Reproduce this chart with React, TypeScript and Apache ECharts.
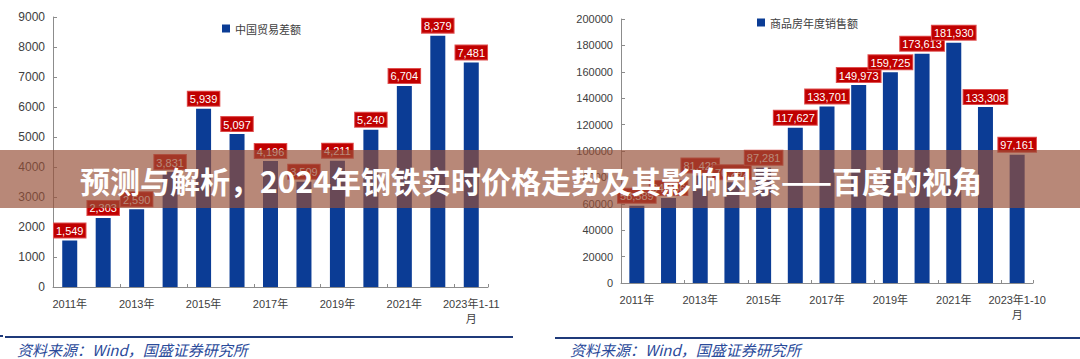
import React, { useEffect, useRef } from "react";
import * as echarts from "echarts";

const leftCategories = ["2011年", "2012年", "2013年", "2014年", "2015年", "2016年", "2017年", "2018年", "2019年", "2020年", "2021年", "2022年", "2023年1-11月"];
const tradeSurplus = [1549, 2303, 2590, 3831, 5939, 5097, 4196, 3509, 4211, 5240, 6704, 8379, 7481];
const leftSeriesName = "中国贸易差额";

const rightCategories = ["2011年", "2012年", "2013年", "2014年", "2015年", "2016年", "2017年", "2018年", "2019年", "2020年", "2021年", "2022年", "2023年1-10月"];
const housingSales = [58589, 64456, 81428, 76292, 87281, 117627, 133701, 149973, 159725, 173613, 181930, 133308, 97161];
const rightSeriesName = "商品房年度销售额";

const leftYAxis = { min: 0, max: 9000, interval: 1000 };
const rightYAxis = { min: 0, max: 200000, interval: 20000 };

const bannerTitle = "预测与解析，2024年钢铁实时价格走势及其影响因素——百度的视角";
const sourceText = "资料来源：Wind，国盛证券研究所";

const BAR = "#0b3c95";
const AXIS = "#8c8c8c";
const TXT = "#404040";
const SANS = "'Liberation Sans', 'Noto Sans CJK SC', sans-serif";
const CJK = "'Noto Sans CJK SC', sans-serif";

const catLabel = (v: string) => (v.endsWith("月") ? v.slice(0, -1) + "\n月" : v);

export default function App() {
  const ref = useRef<HTMLDivElement>(null);
  useEffect(() => {
    if (!ref.current) return;
    const chart = echarts.init(ref.current, null, { renderer: "svg" });
    const xAxisCommon = (gridIndex: number, data: string[]) => ({
      type: "category",
      gridIndex,
      data,
      axisLine: { lineStyle: { color: AXIS, width: 1 } },
      axisTick: { show: true, inside: true, length: 3, interval: 1, lineStyle: { color: AXIS } },
      axisLabel: {
        interval: 1,
        formatter: catLabel,
        color: TXT,
        fontSize: 11,
        fontFamily: SANS,
        margin: 9,
        lineHeight: 15,
      },
    });
    const yAxisCommon = (gridIndex: number, cfg: { min: number; max: number; interval: number }, fs: number) => ({
      type: "value",
      gridIndex,
      min: cfg.min,
      max: cfg.max,
      interval: cfg.interval,
      splitLine: { show: false },
      axisLine: { show: true, lineStyle: { color: AXIS } },
      axisTick: { show: true, inside: true, length: 4, lineStyle: { color: AXIS } },
      axisLabel: { color: TXT, fontSize: fs, fontFamily: SANS, margin: 8, formatter: (v: number) => String(v) },
    });
    const labelCfg = {
      show: true,
      position: "top",
      distance: 3,
      formatter: (p: any) => Number(p.value).toLocaleString("en-US"),
      color: "#ffffff",
      fontSize: 11,
      fontFamily: SANS,
      backgroundColor: "#c00000",
      borderColor: "#e05050",
      borderWidth: 1,
      padding: [2, 2, 1, 2],
    };
    chart.setOption({
      animation: false,
      backgroundColor: "#ffffff",
      grid: [
        { left: 53, top: 17, width: 435, height: 270 },
        { left: 621, top: 19, width: 412, height: 264 },
      ],
      legend: [
        {
          data: [leftSeriesName],
          left: 222,
          top: 23,
          padding: 0,
          itemWidth: 8,
          itemHeight: 8,
          itemGap: 4,
          icon: "rect",
          textStyle: { color: TXT, fontSize: 11, fontFamily: CJK },
        },
        {
          data: [rightSeriesName],
          left: 757,
          top: 17,
          padding: 0,
          itemWidth: 8,
          itemHeight: 8,
          itemGap: 4,
          icon: "rect",
          textStyle: { color: TXT, fontSize: 11, fontFamily: CJK },
        },
      ],
      xAxis: [xAxisCommon(0, leftCategories), xAxisCommon(1, rightCategories)],
      yAxis: [yAxisCommon(0, leftYAxis, 12), yAxisCommon(1, rightYAxis, 11)],
      series: [
        {
          name: leftSeriesName,
          type: "bar",
          xAxisIndex: 0,
          yAxisIndex: 0,
          data: tradeSurplus,
          barWidth: 15,
          itemStyle: { color: BAR },
          label: labelCfg,
        },
        {
          name: rightSeriesName,
          type: "bar",
          xAxisIndex: 1,
          yAxisIndex: 1,
          data: housingSales,
          barWidth: 15,
          itemStyle: { color: BAR },
          label: labelCfg,
        },
      ],
      graphic: [
        { type: "line", z: 50, shape: { x1: 5, y1: 337, x2: 513, y2: 337 }, style: { stroke: "#1f3a7a", lineWidth: 2 } },
        { type: "line", z: 50, shape: { x1: 0, y1: 336, x2: 3, y2: 336 }, style: { stroke: "#1f3a7a", lineWidth: 2 } },
        { type: "line", z: 50, shape: { x1: 555, y1: 338, x2: 1080, y2: 338 }, style: { stroke: "#1f3a7a", lineWidth: 2 } },
        {
          type: "text", z: 50, x: 17, y: 349,
          style: { text: sourceText, fill: "#2a4a9a", fontSize: 15, fontStyle: "italic", fontFamily: CJK, verticalAlign: "middle", align: "left" },
        },
        {
          type: "text", z: 50, x: 570, y: 349,
          style: { text: sourceText, fill: "#2a4a9a", fontSize: 15, fontStyle: "italic", fontFamily: CJK, verticalAlign: "middle", align: "left" },
        },
        { type: "rect", z: 100, shape: { x: 0, y: 150, width: 1080, height: 58 }, style: { fill: "rgba(151,80,56,0.68)" } },
        {
          type: "text", z: 101, x: 531, y: 180,
          style: { text: bannerTitle, fill: "#ffffff", fontSize: 30, fontWeight: "bold", fontFamily: CJK, align: "center", verticalAlign: "middle" },
        },
      ],
    });
    return () => chart.dispose();
  }, []);
  return <div ref={ref} style={{ position: "fixed", left: 0, top: 0, width: 1080, height: 359 }} />;
}
